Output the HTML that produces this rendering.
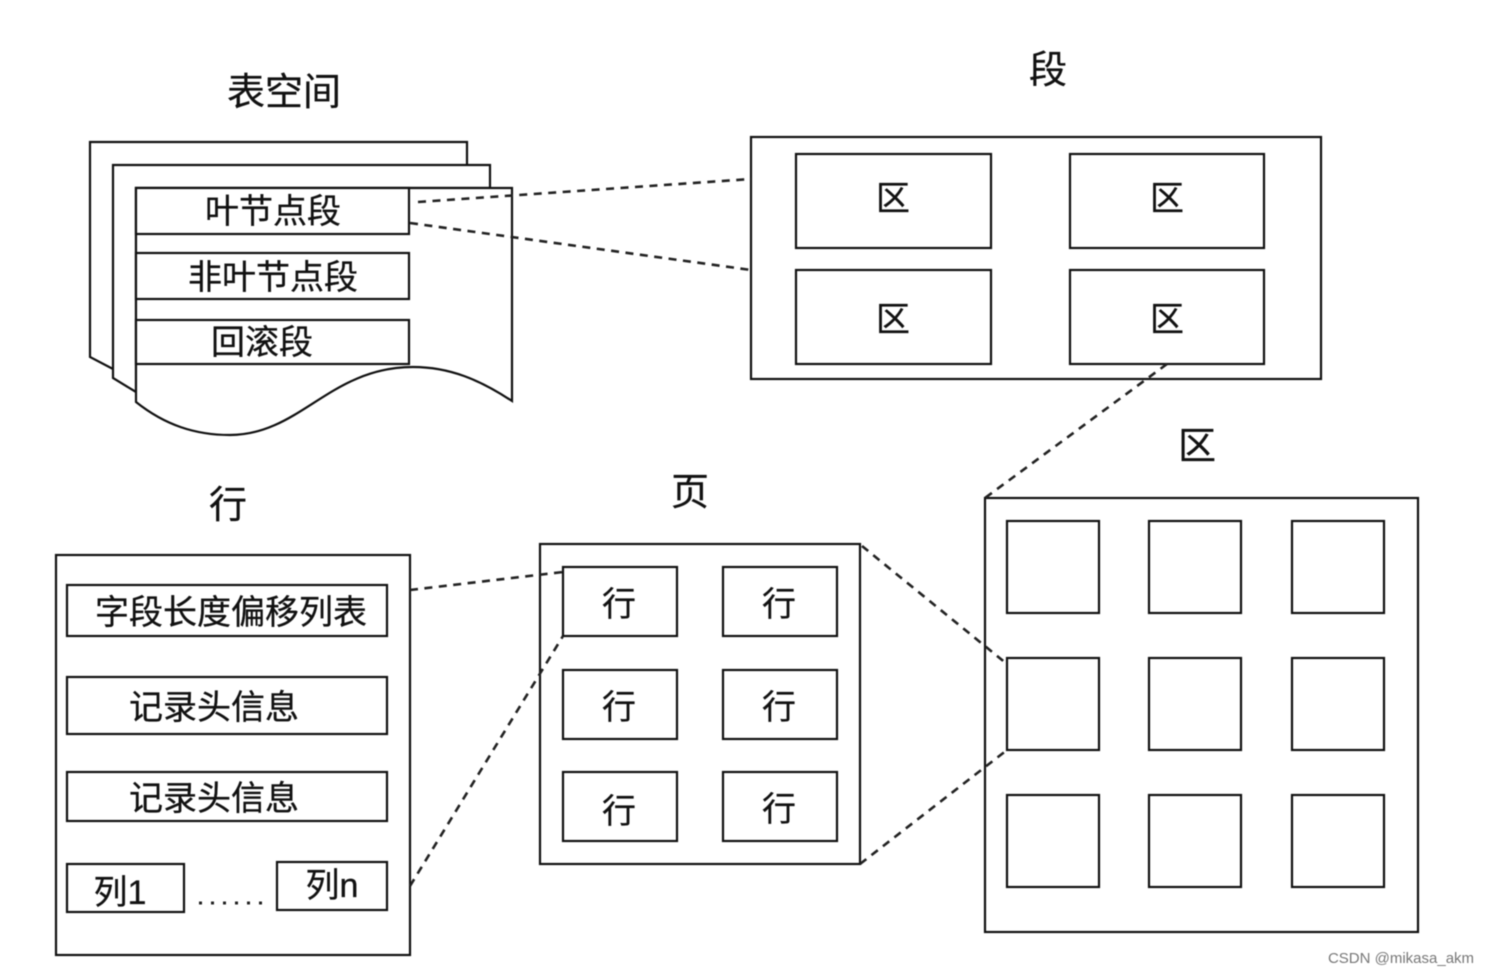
<!DOCTYPE html>
<html><head><meta charset="utf-8">
<style>html,body{margin:0;padding:0;background:#fff}svg{display:block;filter:blur(0.5px)}
text{font-family:"Liberation Sans","Noto Sans CJK SC",sans-serif;fill:#111;stroke:#111;stroke-width:0.3;text-anchor:middle}</style></head>
<body>
<svg width="1490" height="974" viewBox="0 0 1490 974" xmlns="http://www.w3.org/2000/svg">
<g fill="#fff" stroke="#111" stroke-width="2.2">
<path d="M90 142H467V380H113L90 357Z" stroke="none"/>
<path d="M113 369L90 357V142H467V165" fill="none"/>
<path d="M113 165H490V188H136V392L113 378Z"/>
<path d="M136 188H512V401C480 380 450 367 413 367C330 367 300 435 230 435C195 435 165 425 136 402Z"/>
<rect x="136" y="188" width="273" height="46"/>
<rect x="136" y="253" width="273" height="46"/>
<rect x="136" y="320" width="273" height="44"/>
<rect x="751" y="137" width="570" height="242"/>
<rect x="796" y="154" width="195" height="94"/>
<rect x="1070" y="154" width="194" height="94"/>
<rect x="796" y="270" width="195" height="94"/>
<rect x="1070" y="270" width="194" height="94"/>
<rect x="985" y="498" width="433" height="434"/>
<rect x="1007" y="521" width="92" height="92"/><rect x="1149" y="521" width="92" height="92"/><rect x="1292" y="521" width="92" height="92"/>
<rect x="1007" y="658" width="92" height="92"/><rect x="1149" y="658" width="92" height="92"/><rect x="1292" y="658" width="92" height="92"/>
<rect x="1007" y="795" width="92" height="92"/><rect x="1149" y="795" width="92" height="92"/><rect x="1292" y="795" width="92" height="92"/>
<rect x="540" y="544" width="320" height="320"/>
<rect x="563" y="567" width="114" height="69"/><rect x="723" y="567" width="114" height="69"/>
<rect x="563" y="670" width="114" height="69"/><rect x="723" y="670" width="114" height="69"/>
<rect x="563" y="772" width="114" height="69"/><rect x="723" y="772" width="114" height="69"/>
<rect x="56" y="555" width="354" height="400"/>
<rect x="67" y="585" width="320" height="51"/>
<rect x="67" y="677" width="320" height="57"/>
<rect x="67" y="772" width="320" height="49"/>
<rect x="67" y="864" width="117" height="48"/>
<rect x="277" y="862" width="110" height="48"/>
</g>
<g fill="none" stroke="#222" stroke-width="2.6" stroke-dasharray="8 6.5">
<path d="M418 202L751 179"/><path d="M410 223L751 270"/>
<path d="M1167 364L985 498"/>
<path d="M862 546L1007 664"/><path d="M860 864L1007 750"/>
<path d="M410 590L563 572"/><path d="M410 886L563 636"/>
</g>
<path d="M199 903H262" stroke="#222" stroke-width="3" stroke-dasharray="3 9" fill="none"/>
<g font-size="38"><text x="284" y="105">表空间</text><text x="1048" y="83">段</text><text x="1197" y="459">区</text><text x="690" y="505">页</text><text x="228" y="518">行</text></g>
<g font-size="34">
<text x="273" y="223">叶节点段</text><text x="273" y="289">非叶节点段</text><text x="262" y="354">回滚段</text>
<text x="893" y="210">区</text><text x="1167" y="210">区</text><text x="893" y="331">区</text><text x="1167" y="331">区</text>
<text x="619" y="616">行</text><text x="779" y="616">行</text><text x="619" y="719">行</text><text x="779" y="719">行</text><text x="619" y="823">行</text><text x="779" y="821">行</text>
<text x="231" y="624">字段长度偏移列表</text><text x="214" y="719">记录头信息</text><text x="214" y="810">记录头信息</text>
<text x="120" y="904">列1</text><text x="332" y="897">列n</text>
</g>
<text x="1401" y="963" style="font-size:15px;fill:#777;stroke:none">CSDN @mikasa_akm</text>
</svg>
</body></html>
